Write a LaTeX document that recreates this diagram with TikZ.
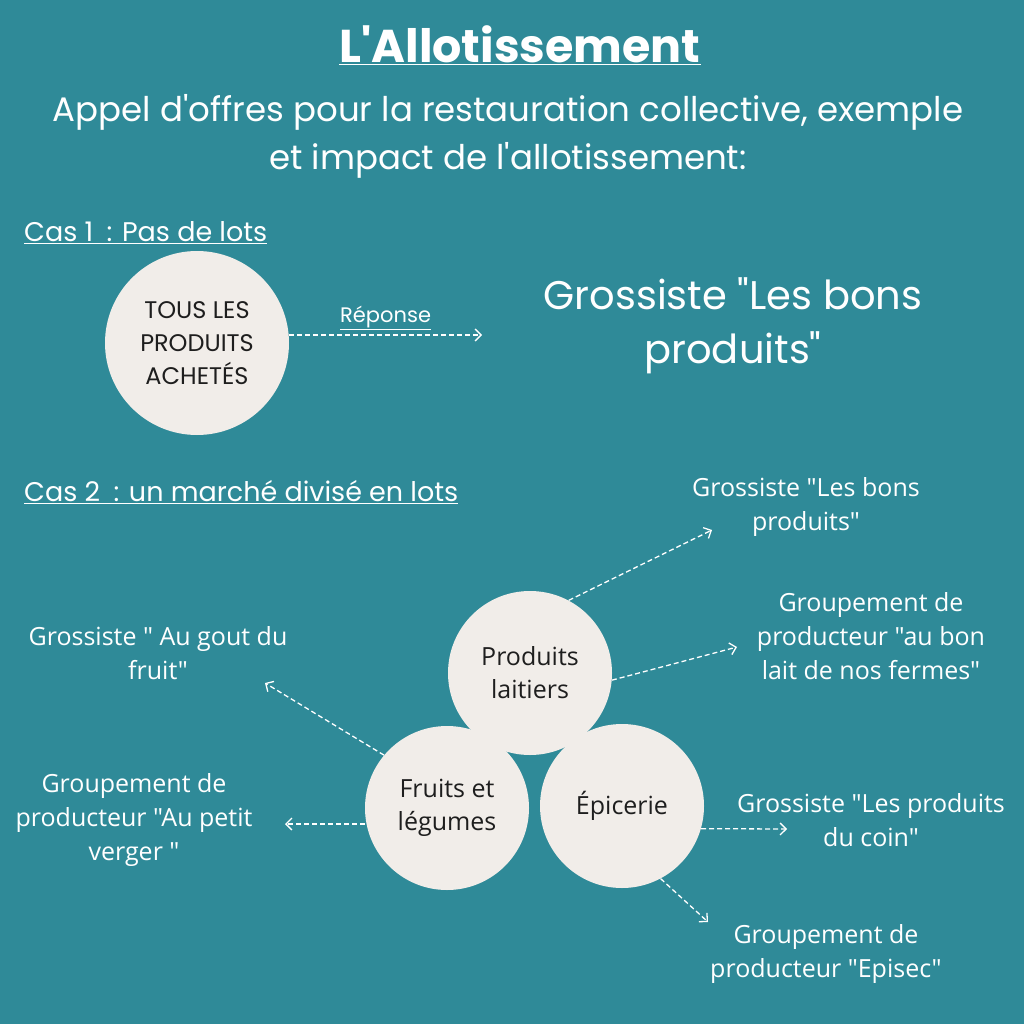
\documentclass[tikz,border=0pt]{standalone}
\usepackage{fontspec}
\setmainfont{Poppins}[Ligatures=TeXOff]
\newfontfamily\bodyfont{Open Sans}[Ligatures=TeXOff]
\usetikzlibrary{positioning,arrows.meta}
\definecolor{fond}{HTML}{2F8A98}
\definecolor{bulle}{HTML}{F1EDE9}
\definecolor{encre}{HTML}{1E1E1E}
\tikzset{
  lot/.style={circle,fill=bulle,text=encre,align=center,inner sep=0pt,font=\bodyfont\fontsize{25}{33}\selectfont},
  titulaire/.style={text=white,align=center,font=\bodyfont\fontsize{25}{34}\selectfont},
  cas/.style={text=white,anchor=west,inner sep=0pt,font=\fontsize{27}{30}\selectfont},
  reponse/.style={->,white,dashed,line width=1.3pt,dash pattern=on 5pt off 3pt,-{Straight Barb[length=6pt,width=12pt]}}
}
\begin{document}
\begin{tikzpicture}[x=1pt,y=-1pt]
  \fill[fond] (0,0) rectangle (1024,1024);
  \useasboundingbox (0,0) rectangle (1024,1024);

  % En-tete
  \node[text=white,font=\bfseries\fontsize{46}{50}\selectfont] (titre) at (520,45) {\underline{L'Allotissement}};
  \node[text=white,align=center,font=\fontsize{34}{48}\selectfont] (soustitre) at (508,136)
    {Appel d'offres pour la restauration collective, exemple\\ et impact de l'allotissement:};

  % Cas 1
  \node[cas] (cas1) at (24,233) {\underline{Cas 1\enspace: Pas de lots}};
  \node[lot,minimum size=184pt,font=\fontsize{24}{33}\selectfont] (tous) at (197,343) {TOUS LES\\PRODUITS\\ACHETÉS};
  \coordinate (fin1) at (482,335);
  \draw[reponse] (tous.east |- fin1) -- node[above=1pt,font=\fontsize{21}{24}\selectfont,text=white]{\underline{Réponse}} (fin1);
  \node[text=white,align=center,font=\fontsize{40}{54}\selectfont] (gros1) at (733,326) {Grossiste "Les bons\\produits"};

  % Cas 2
  \node[cas] (cas2) at (24,492) {\underline{Cas 2\enspace: un marché divisé en lots}};
  \node[lot,minimum size=164pt] (lait) at (530,673) {Produits\\laitiers};
  \node[lot,minimum size=164pt] (fruits) at (447,808) {Fruits et\\légumes};
  \node[lot,minimum size=164pt] (epicerie) at (622,806) {Épicerie};

  \node[titulaire] (bons) at (806,507) {Grossiste "Les bons\\produits"};
  \node[titulaire] (fermes) at (871,636) {Groupement de\\producteur "au bon\\lait de nos fermes"};
  \node[titulaire] (gout) at (158,653) {Grossiste " Au gout du\\fruit"};
  \node[titulaire] (verger) at (134,820) {Groupement de\\producteur "Au petit\\verger "};
  \node[titulaire] (coin) at (871,820) {Grossiste "Les produits\\du coin"};
  \node[titulaire] (episec) at (826,954) {Groupement de\\producteur "Episec"};

  \coordinate (vbons) at (712,530);
  \coordinate (vfermes) at (737,647);
  \coordinate (vgout) at (265,683);
  \coordinate (vverger) at (285,824);
  \coordinate (vcoin) at (787,829);
  \coordinate (vepisec) at (708,922);

  \draw[reponse] (lait.62) -- (vbons);
  \draw[reponse] (lait.-5) -- (vfermes);
  \draw[reponse] (fruits.140) -- (vgout);
  \draw[reponse] (fruits.west |- vverger) -- (vverger);
  \draw[reponse] (epicerie.-16) -- (vcoin);
  \draw[reponse] (epicerie.-62) -- (vepisec);
\end{tikzpicture}
\end{document}
